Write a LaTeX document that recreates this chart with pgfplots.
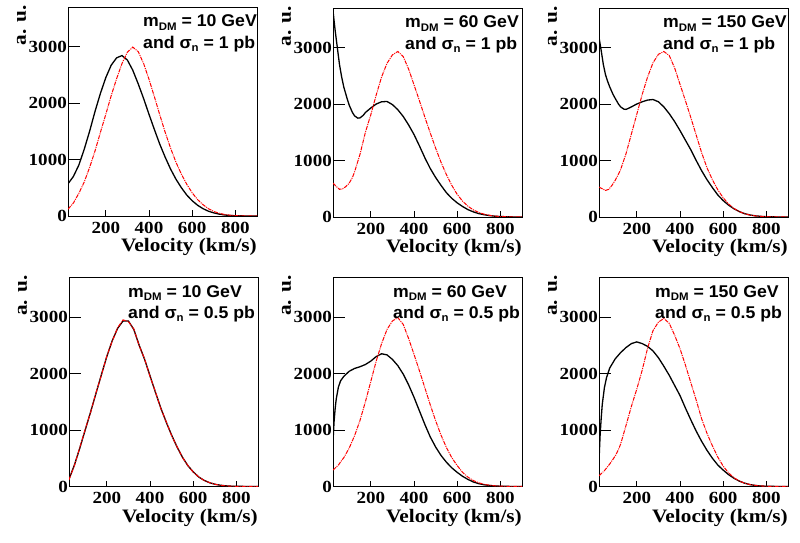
\documentclass[border=0pt]{standalone}
\usepackage{fontspec}
\setmainfont{Liberation Serif}[FakeStretch=1.12]
\newfontfamily\hvfam{Liberation Sans}[FakeStretch=1.04]
\usepackage{pgfplots}
\pgfplotsset{compat=1.18}
\newcommand\tickfont{\fontsize{17}{17}\selectfont\bfseries}
\newcommand\labfont{\fontsize{19}{19}\selectfont\bfseries}
\newcommand\annfont{\hvfam\fontsize{17}{17}\selectfont\bfseries}
\newcommand\mysub[1]{\raisebox{-0.35ex}{\fontsize{11}{11}\selectfont #1}}
\pgfplotsset{
  rootpanel/.style={
    width=189pt, height=209pt, scale only axis,
    xmin=25, xmax=900, ymin=0, ymax=3700,
    xtick={200,400,600,800}, ytick={0,1000,2000,3000},
    tick align=inside, xtick pos=bottom, ytick pos=left,
    major tick length=12pt,
    xtick style={/pgfplots/major tick length=5.5pt, black, line width=0.8pt},
    ytick style={black, line width=0.8pt},
    minor tick num=0,
    axis line style={line width=0.8pt},
    ticklabel style={font=\tickfont},
    /pgf/number format/assume math mode=true,
    /pgf/number format/1000 sep={},
    scaled y ticks=false,
    yticklabel style={inner sep=1pt},
    xticklabel style={inner sep=0pt, yshift=-5.7pt},
    xlabel={Velocity (km/s)}, ylabel={a. u.},
    xlabel style={at={(axis description cs:1,0)}, anchor=base east, yshift=-36pt, inner sep=0pt, font=\labfont},
    ylabel style={at={(axis description cs:-0.246,1.01)}, anchor=east, inner sep=0pt, font=\labfont},
  },
  blk/.style={black, line width=1.3pt},
  rd/.style={red, line width=1pt, dash pattern=on 4pt off 1pt on 1pt off 1pt},
}
\begin{document}
\begin{tikzpicture}
\useasboundingbox (0,0) rectangle (800pt,-543pt);
% ---------------- Panel 1 ----------------
\begin{axis}[rootpanel, at={(68pt,-7pt)}, anchor=north west]
\addplot[blk] coordinates {(25,570)(50,700)(75,900)(100,1180)(125,1500)(150,1850)(175,2170)(200,2450)(225,2670)(250,2800)(275,2840)(300,2760)(325,2580)(350,2340)(375,2080)(400,1800)(425,1530)(450,1270)(475,1040)(500,830)(525,650)(550,500)(575,370)(600,270)(625,190)(650,130)(675,85)(700,55)(725,33)(750,18)(775,9)(800,4)(850,1)(900,0)};
\addplot[rd] coordinates {(25,120)(50,230)(75,400)(100,600)(125,860)(150,1150)(175,1480)(200,1800)(225,2130)(250,2430)(275,2700)(300,2900)(325,2990)(350,2910)(375,2700)(400,2420)(425,2110)(450,1790)(475,1480)(500,1200)(525,950)(550,740)(575,560)(600,410)(625,290)(650,200)(675,130)(700,80)(725,48)(750,27)(775,14)(800,7)(850,2)(900,0)};
\node[anchor=base west, inner sep=0pt, font=\annfont, xshift=75pt, yshift=-20pt] at (rel axis cs:0,1) {m\mysub{DM} = 10 GeV};
\node[anchor=base west, inner sep=0pt, font=\annfont, xshift=75pt, yshift=-41pt] at (rel axis cs:0,1) {and σ\mysub{n} = 1 pb};
\end{axis}
% ---------------- Panel 2 ----------------
\begin{axis}[rootpanel, at={(333pt,-8pt)}, anchor=north west]
\addplot[blk] coordinates {(25,3650)(35,3300)(45,3000)(55,2700)(65,2480)(75,2300)(90,2100)(100,1980)(115,1850)(125,1790)(140,1750)(150,1755)(165,1800)(175,1850)(200,1930)(225,2000)(250,2040)(275,2045)(300,1990)(325,1900)(350,1780)(375,1630)(400,1460)(425,1260)(450,1050)(475,860)(500,700)(525,560)(550,430)(575,330)(600,250)(625,185)(650,130)(675,90)(700,60)(725,40)(750,25)(775,14)(800,8)(850,2)(900,0)};
\addplot[rd] coordinates {(25,600)(40,540)(55,490)(70,500)(85,540)(100,600)(115,700)(125,800)(150,1110)(175,1500)(200,1810)(225,2160)(250,2480)(275,2720)(300,2870)(325,2930)(350,2840)(375,2620)(400,2340)(425,2060)(450,1770)(475,1490)(500,1220)(525,970)(550,750)(575,560)(600,400)(625,280)(650,190)(675,125)(700,80)(725,50)(750,30)(775,16)(800,8)(850,2)(900,0)};
\node[anchor=base west, inner sep=0pt, font=\annfont, xshift=72pt, yshift=-20pt] at (rel axis cs:0,1) {m\mysub{DM} = 60 GeV};
\node[anchor=base west, inner sep=0pt, font=\annfont, xshift=72pt, yshift=-41pt] at (rel axis cs:0,1) {and σ\mysub{n} = 1 pb};
\end{axis}
% ---------------- Panel 3 ----------------
\begin{axis}[rootpanel, at={(599pt,-8pt)}, anchor=north west]
\addplot[blk] coordinates {(25,3180)(35,2950)(45,2700)(55,2520)(65,2400)(75,2300)(90,2170)(100,2100)(115,2000)(125,1950)(140,1910)(150,1905)(165,1930)(175,1950)(200,2000)(225,2040)(250,2070)(275,2080)(300,2040)(325,1950)(350,1830)(375,1690)(400,1530)(425,1360)(450,1190)(475,1000)(500,820)(525,660)(550,520)(575,390)(600,290)(625,210)(650,145)(675,95)(700,58)(725,35)(750,20)(775,11)(800,5)(850,1)(900,0)};
\addplot[rd] coordinates {(25,530)(40,500)(55,470)(70,490)(85,560)(100,650)(116,765)(125,840)(150,1120)(175,1470)(200,1820)(225,2170)(250,2480)(275,2730)(300,2880)(325,2930)(350,2860)(375,2640)(400,2350)(425,2060)(450,1760)(475,1450)(500,1140)(525,870)(550,660)(575,480)(600,340)(625,230)(650,150)(675,95)(700,57)(725,33)(750,19)(775,10)(800,5)(850,1)(900,0)};
\node[anchor=base west, inner sep=0pt, font=\annfont, xshift=64pt, yshift=-20pt] at (rel axis cs:0,1) {m\mysub{DM} = 150 GeV};
\node[anchor=base west, inner sep=0pt, font=\annfont, xshift=64pt, yshift=-41pt] at (rel axis cs:0,1) {and σ\mysub{n} = 1 pb};
\end{axis}
% ---------------- Panel 4 ----------------
\begin{axis}[rootpanel, at={(69pt,-277.5pt)}, anchor=north west]
\addplot[blk] coordinates {(25,130)(50,380)(75,680)(100,1000)(125,1320)(150,1650)(175,1980)(200,2300)(225,2580)(250,2800)(275,2930)(300,2930)(325,2780)(350,2500)(375,2250)(400,1960)(425,1670)(450,1390)(475,1140)(500,910)(525,700)(550,520)(575,370)(600,260)(625,170)(650,110)(675,68)(700,40)(725,23)(750,12)(775,6)(800,3)(850,1)(900,0)};
\addplot[rd] coordinates {(25,120)(50,370)(75,690)(100,1010)(125,1310)(150,1660)(175,1970)(200,2310)(225,2570)(250,2810)(275,2950)(300,2920)(325,2790)(350,2490)(375,2260)(400,1950)(425,1680)(450,1380)(475,1150)(500,900)(525,710)(550,515)(575,375)(600,255)(625,172)(650,108)(675,70)(700,40)(725,22)(750,12)(775,6)(800,3)(850,1)(900,0)};
\node[anchor=base west, inner sep=0pt, font=\annfont, xshift=59pt, yshift=-20pt] at (rel axis cs:0,1) {m\mysub{DM} = 10 GeV};
\node[anchor=base west, inner sep=0pt, font=\annfont, xshift=59pt, yshift=-41pt] at (rel axis cs:0,1) {and σ\mysub{n} = 0.5 pb};
\end{axis}
% ---------------- Panel 5 ----------------
\begin{axis}[rootpanel, at={(333pt,-277.5pt)}, anchor=north west]
\addplot[blk] coordinates {(25,800)(30,1150)(35,1380)(40,1550)(50,1760)(60,1870)(75,1950)(100,2040)(125,2090)(150,2120)(175,2160)(200,2220)(225,2300)(250,2350)(275,2330)(300,2250)(325,2140)(350,1990)(375,1800)(400,1580)(425,1340)(450,1100)(475,880)(500,700)(525,550)(550,430)(575,330)(600,250)(625,180)(650,125)(675,80)(700,50)(725,30)(750,18)(775,10)(800,5)(850,1)(900,0)};
\addplot[rd] coordinates {(25,290)(50,380)(65,460)(75,510)(100,680)(125,900)(150,1170)(175,1500)(200,1860)(225,2220)(250,2530)(275,2780)(300,2930)(325,2990)(350,2870)(375,2620)(400,2340)(425,2050)(450,1750)(475,1450)(500,1165)(525,910)(550,690)(575,510)(600,370)(625,250)(650,165)(675,105)(700,65)(725,38)(750,22)(775,12)(800,6)(850,1)(900,0)};
\node[anchor=base west, inner sep=0pt, font=\annfont, xshift=60pt, yshift=-20pt] at (rel axis cs:0,1) {m\mysub{DM} = 60 GeV};
\node[anchor=base west, inner sep=0pt, font=\annfont, xshift=60pt, yshift=-41pt] at (rel axis cs:0,1) {and σ\mysub{n} = 0.5 pb};
\end{axis}
% ---------------- Panel 6 ----------------
\begin{axis}[rootpanel, at={(599pt,-277.5pt)}, anchor=north west]
\addplot[blk] coordinates {(25,450)(30,900)(35,1200)(40,1450)(50,1750)(60,1930)(75,2100)(100,2260)(125,2370)(150,2460)(175,2530)(200,2560)(225,2530)(250,2480)(275,2400)(300,2280)(325,2130)(350,1970)(375,1790)(400,1610)(425,1390)(450,1180)(475,980)(500,800)(525,640)(550,500)(575,380)(600,290)(625,210)(650,145)(675,95)(700,58)(725,33)(750,18)(775,9)(800,4)(850,1)(900,0)};
\addplot[rd] coordinates {(25,190)(50,280)(75,400)(100,540)(115,655)(125,750)(150,1080)(175,1420)(200,1725)(225,2060)(250,2450)(275,2760)(300,2910)(325,2975)(350,2890)(375,2680)(400,2440)(425,2150)(450,1840)(475,1530)(500,1200)(525,940)(550,720)(575,520)(600,360)(625,240)(650,155)(675,95)(700,58)(725,33)(750,19)(775,10)(800,5)(850,1)(900,0)};
\node[anchor=base west, inner sep=0pt, font=\annfont, xshift=56pt, yshift=-20pt] at (rel axis cs:0,1) {m\mysub{DM} = 150 GeV};
\node[anchor=base west, inner sep=0pt, font=\annfont, xshift=56pt, yshift=-41pt] at (rel axis cs:0,1) {and σ\mysub{n} = 0.5 pb};
\end{axis}
\end{tikzpicture}
\end{document}
